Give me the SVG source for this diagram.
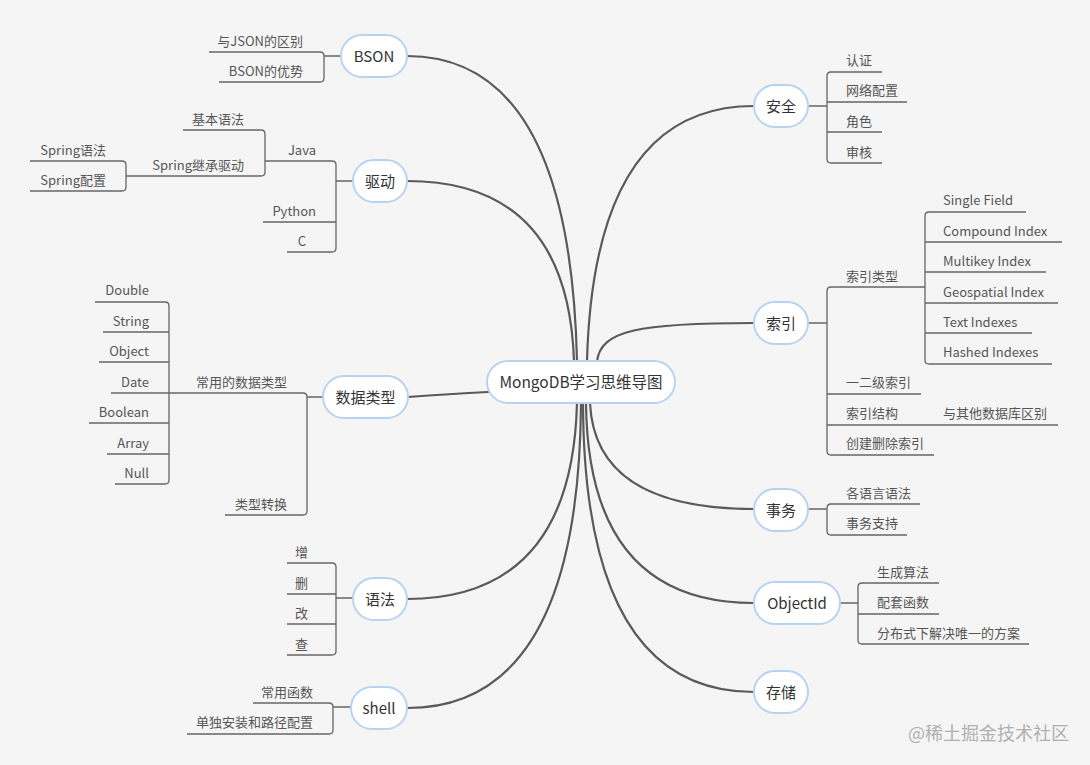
<svg xmlns="http://www.w3.org/2000/svg" width="1090" height="765" viewBox="0 0 1090 765">
<style>
text{font-family:"Noto Sans CJK SC","Noto Sans",sans-serif;}
.bg{fill:#f5f5f5;}
.node{fill:#ffffff;stroke:#b7d3f2;stroke-width:2;}
.main{font-size:15px;fill:#333;text-anchor:middle;}
.center{font-size:15.5px;fill:#333;text-anchor:middle;}
.leaf{font-size:13px;fill:#555;}
.l{text-anchor:end;}
.r{text-anchor:start;}
.curve{fill:none;stroke:#5a5a5a;stroke-width:2.2;stroke-linecap:round;}
.branch{fill:none;stroke:#666;stroke-width:1.3;}
.wm{font-size:18px;fill:#b0b0b0;}
</style>
<rect class="bg" x="0" y="0" width="1090" height="765"/>

<g id="connectors">
  <path class="curve" d="M407,56 Q570,56 577,361"/>
  <path class="curve" d="M407,181 Q568,181 574,361"/>
  <path class="curve" d="M408,397 Q450,394 488,392"/>
  <path class="curve" d="M407,599 Q572,599 577,403"/>
  <path class="curve" d="M407,708 Q579,708 581,403"/>
  <path class="curve" d="M754,106 Q594,106 587,361"/>
  <path class="curve" d="M754,323 C640,323 600,330 597,362"/>
  <path class="curve" d="M754,509 Q595,509 590,403"/>
  <path class="curve" d="M754,603 Q588,603 586,403"/>
  <path class="curve" d="M754,692 Q584,692 583,403"/>

  <!-- BSON -->
  <path class="branch" d="M209,52 H320 Q324,52 324,56 V78 Q324,82 320,82 H219 M324,56 H341"/>
  <!-- 驱动 -->
  <path class="branch" d="M265,161 H332 Q336,161 336,165 V248 Q336,252 332,252 H287 M263,222 H336 M336,181 H353"/>
  <path class="branch" d="M183,130 H261 Q265,130 265,134 V172 Q265,176 261,176 H126"/>
  <path class="branch" d="M30,161 H122 Q126,161 126,165 V187 Q126,191 122,191 H30"/>
  <!-- 数据类型 -->
  <path class="branch" d="M169,393 H303 Q307,393 307,397 V511 Q307,515 303,515 H225 M307,397 H323"/>
  <path class="branch" d="M95,302 H165 Q169,302 169,306 V480 Q169,484 165,484 H115 M103,332 H169 M99,362 H169 M111,393 H169 M89,423 H169 M107,454 H169"/>
  <!-- 语法 -->
  <path class="branch" d="M287,563 H332 Q336,563 336,567 V651 Q336,655 332,655 H287 M287,594 H336 M287,624 H336 M336,598 H353"/>
  <!-- shell -->
  <path class="branch" d="M253,703 H329 Q333,703 333,707 V730 Q333,734 329,734 H187 M333,707 H351"/>
  <!-- 安全 -->
  <path class="branch" d="M882,72 H831 Q827,72 827,76 V159 Q827,163 831,163 H882 M907,102 H827 M882,132 H827 M808,106 H827"/>
  <!-- 索引 -->
  <path class="branch" d="M925,287 H831 Q827,287 827,291 V451 Q827,455 831,455 H934 M921,394 H827 M1058,425 H827 M808,323 H827"/>
  <path class="branch" d="M1026,212 H929 Q925,212 925,216 V360 Q925,364 929,364 H1052 M1062,242 H925 M1046,272 H925 M1058,303 H925 M1032,333 H925"/>
  <!-- 事务 -->
  <path class="branch" d="M920,504 H831 Q827,504 827,508 V531 Q827,535 831,535 H907 M808,509 H827"/>
  <!-- ObjectId -->
  <path class="branch" d="M939,583 H862 Q858,583 858,587 V640 Q858,644 862,644 H1029 M939,614 H858 M840,603 H858"/>
</g>

<g id="n-root"><rect class="node" x="487" y="361" width="188" height="42" rx="21"/><text class="center" x="581" y="387.5">MongoDB学习思维导图</text></g>

<g id="n-bson"><rect class="node" x="341" y="35" width="66" height="42" rx="21"/><text class="main" x="374" y="61.5">BSON</text></g>
<g id="n-bson-1"><text class="leaf l" x="303" y="46">与JSON的区别</text></g>
<g id="n-bson-2"><text class="leaf l" x="303" y="76">BSON的优势</text></g>

<g id="n-driver"><rect class="node" x="353" y="160" width="54" height="42" rx="21"/><text class="main" x="380" y="186.5">驱动</text></g>
<g id="n-java"><text class="leaf l" x="316" y="155">Java</text></g>
<g id="n-python"><text class="leaf l" x="316" y="216">Python</text></g>
<g id="n-c"><text class="leaf l" x="306" y="246">C</text></g>
<g id="n-java-1"><text class="leaf l" x="244" y="124">基本语法</text></g>
<g id="n-java-2"><text class="leaf l" x="244" y="170">Spring继承驱动</text></g>
<g id="n-spring-1"><text class="leaf l" x="106" y="155">Spring语法</text></g>
<g id="n-spring-2"><text class="leaf l" x="106" y="185">Spring配置</text></g>

<g id="n-types"><rect class="node" x="323" y="376" width="85" height="42" rx="21"/><text class="main" x="365.5" y="402.5">数据类型</text></g>
<g id="n-types-1"><text class="leaf l" x="287" y="387">常用的数据类型</text></g>
<g id="n-types-2"><text class="leaf l" x="287" y="509">类型转换</text></g>
<g id="n-double"><text class="leaf l" x="149" y="295">Double</text></g>
<g id="n-string"><text class="leaf l" x="149" y="326">String</text></g>
<g id="n-object"><text class="leaf l" x="149" y="356">Object</text></g>
<g id="n-date"><text class="leaf l" x="149" y="387">Date</text></g>
<g id="n-boolean"><text class="leaf l" x="149" y="417">Boolean</text></g>
<g id="n-array"><text class="leaf l" x="149" y="448">Array</text></g>
<g id="n-null"><text class="leaf l" x="149" y="478">Null</text></g>

<g id="n-syntax"><rect class="node" x="353" y="578" width="54" height="42" rx="21"/><text class="main" x="380" y="604.5">语法</text></g>
<g id="n-add"><text class="leaf l" x="308" y="557">增</text></g>
<g id="n-del"><text class="leaf l" x="308" y="588">删</text></g>
<g id="n-mod"><text class="leaf l" x="308" y="618">改</text></g>
<g id="n-query"><text class="leaf l" x="308" y="649">查</text></g>

<g id="n-shell"><rect class="node" x="351" y="687" width="56" height="42" rx="21"/><text class="main" x="379" y="713.5">shell</text></g>
<g id="n-shell-1"><text class="leaf l" x="313" y="697">常用函数</text></g>
<g id="n-shell-2"><text class="leaf l" x="313" y="727">单独安装和路径配置</text></g>

<g id="n-security"><rect class="node" x="754" y="85" width="54" height="42" rx="21"/><text class="main" x="781" y="111.5">安全</text></g>
<g id="n-sec-1"><text class="leaf r" x="846" y="65">认证</text></g>
<g id="n-sec-2"><text class="leaf r" x="846" y="95">网络配置</text></g>
<g id="n-sec-3"><text class="leaf r" x="846" y="126">角色</text></g>
<g id="n-sec-4"><text class="leaf r" x="846" y="157">审核</text></g>

<g id="n-index"><rect class="node" x="754" y="302" width="54" height="42" rx="21"/><text class="main" x="781" y="328.5">索引</text></g>
<g id="n-idx-type"><text class="leaf r" x="846" y="281">索引类型</text></g>
<g id="n-idx-2"><text class="leaf r" x="846" y="387">一二级索引</text></g>
<g id="n-idx-3"><text class="leaf r" x="846" y="418">索引结构</text></g>
<g id="n-idx-3-1"><text class="leaf r" x="943" y="418">与其他数据库区别</text></g>
<g id="n-idx-4"><text class="leaf r" x="846" y="448">创建删除索引</text></g>
<g id="n-single"><text class="leaf r" x="943" y="205">Single Field</text></g>
<g id="n-compound"><text class="leaf r" x="943" y="236">Compound Index</text></g>
<g id="n-multikey"><text class="leaf r" x="943" y="266">Multikey Index</text></g>
<g id="n-geo"><text class="leaf r" x="943" y="297">Geospatial Index</text></g>
<g id="n-text"><text class="leaf r" x="943" y="327">Text Indexes</text></g>
<g id="n-hashed"><text class="leaf r" x="943" y="357">Hashed Indexes</text></g>

<g id="n-trans"><rect class="node" x="754" y="489" width="54" height="42" rx="21"/><text class="main" x="781" y="515.5">事务</text></g>
<g id="n-trans-1"><text class="leaf r" x="846" y="498">各语言语法</text></g>
<g id="n-trans-2"><text class="leaf r" x="846" y="528">事务支持</text></g>

<g id="n-objectid"><rect class="node" x="754" y="582" width="86" height="42" rx="21"/><text class="main" x="797" y="608.5">ObjectId</text></g>
<g id="n-oid-1"><text class="leaf r" x="877" y="577">生成算法</text></g>
<g id="n-oid-2"><text class="leaf r" x="877" y="607">配套函数</text></g>
<g id="n-oid-3"><text class="leaf r" x="877" y="638">分布式下解决唯一的方案</text></g>

<g id="n-storage"><rect class="node" x="754" y="671" width="54" height="42" rx="21"/><text class="main" x="781" y="697.5">存储</text></g>

<text class="wm" x="908" y="740">@稀土掘金技术社区</text>
</svg>
